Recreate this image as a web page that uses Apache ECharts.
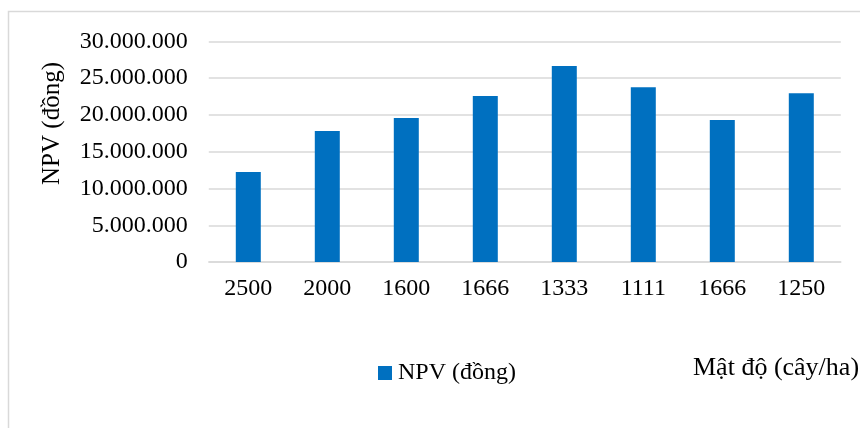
<!DOCTYPE html>
<html>
<head>
<meta charset="utf-8">
<script src="https://cdn.jsdelivr.net/npm/echarts@6/dist/echarts.min.js"></script>
<style>html,body{margin:0;padding:0;background:#fff}#c{width:860px;height:428px}</style>
</head>
<body>
<div id="c"></div>
<script>
const categories = ["2500", "2000", "1600", "1666", "1333", "1111", "1666", "1250"];
const npvValues = [12240000, 17810000, 19580000, 22570000, 26640000, 23750000, 19310000, 22930000];
const seriesName = "NPV (đồng)";
const yTitle = "NPV (đồng)";
const xTitle = "Mật độ (cây/ha)";

const FONT = "'Liberation Serif', 'Times New Roman', serif";
const FS = 24;
function fmt(v){ return String(Math.round(v)).replace(/\B(?=(\d{3})+(?!\d))/g, '.'); }

const chart = echarts.init(document.getElementById('c'), null, {renderer:'canvas'});
chart.setOption({
  animation: false,
  backgroundColor: '#fff',
  grid: {left: 208.8, right: 19.2, top: 41.3, bottom: 165.9, containLabel: false},
  xAxis: {
    type: 'category', data: categories,
    axisLine: {show: true, lineStyle: {color: '#d9d9d9', width: 1.5}},
    axisTick: {show: false},
    axisLabel: {color: '#000', fontFamily: FONT, fontSize: FS, margin: 15}
  },
  yAxis: {
    type: 'value', min: 0, max: 30000000, interval: 5000000,
    axisLine: {show: false}, axisTick: {show: false},
    splitLine: {lineStyle: {color: '#d9d9d9', width: 1.5}},
    axisLabel: {color: '#000', fontFamily: FONT, fontSize: FS, margin: 21, formatter: fmt}
  },
  legend: {
    left: 378, top: 361, padding: 0, icon: 'rect', itemWidth: 14, itemHeight: 14, itemGap: 6,
    textStyle: {color: '#000', fontFamily: FONT, fontSize: FS, padding: [0, 0, 0, 1]},
    data: [seriesName]
  },
  series: [{
    name: seriesName, type: 'bar', data: npvValues, barWidth: 25,
    itemStyle: {color: '#0070C0'}
  }],
  graphic: [
    {type: 'rect', silent: true, z: -10, shape: {x: 8.5, y: 11.5, width: 1000, height: 600},
     style: {fill: null, stroke: '#d9d9d9', lineWidth: 1.5}},
    {type: 'text', x: 52, y: 123.5, rotation: Math.PI/2,
     style: {text: yTitle, fontFamily: FONT, fontSize: 25, fill: '#000', align: 'center', verticalAlign: 'middle'}},
    {type: 'text', x: 693, y: 368,
     style: {text: xTitle, fontFamily: FONT, fontSize: 26, fill: '#000', align: 'left', verticalAlign: 'middle'}}
  ]
});
</script>
</body>
</html>
